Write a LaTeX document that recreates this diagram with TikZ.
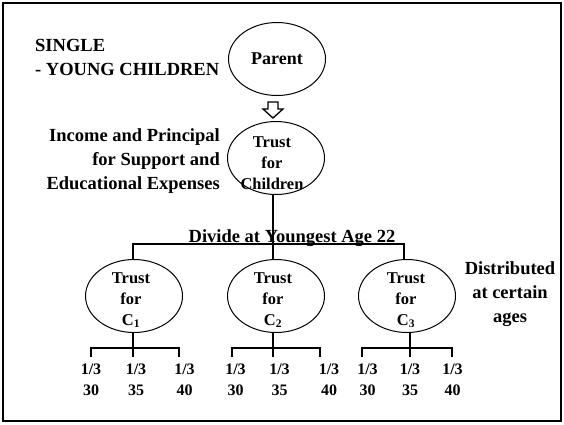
\documentclass[tikz,border=0pt]{standalone}
\usepackage{fontspec}
\setmainfont{Liberation Serif}
\usetikzlibrary{shapes.geometric}
\begin{document}
\begin{tikzpicture}[x=1pt,y=-1pt,
  bubble/.style={draw, ellipse, line width=1pt, inner sep=0pt, minimum width=97pt, minimum height=73pt},
  lbl/.style={font=\bfseries\fontsize{18.5}{24}\selectfont, inner sep=0pt},
  intext/.style={font=\bfseries\fontsize{16.5}{21}\selectfont, align=center, inner sep=0pt},
  frac/.style={font=\bfseries\fontsize{16}{21}\selectfont, align=center, inner sep=0pt},
  wire/.style={line width=2.4pt},
  hollow/.style={draw, line width=1.3pt, fill=white, line join=miter},
]
\useasboundingbox (0,0) rectangle (564,424);
% outer frame
\draw[line width=2.2pt] (3,3) rectangle (561,421);

% heading
\node[lbl, align=left, anchor=west] (title) at (35,57) {SINGLE\\- YOUNG CHILDREN};

% parent and its trust
\node[bubble] (parent) at (277,59) {};
\node[intext, font=\bfseries\fontsize{18}{21}\selectfont] (parentTxt) at (277,59) {Parent};

\draw[hollow] (268,102) -- (278,102) -- (278,109) -- (283,109) -- (273,118)
  -- (263,109) -- (268,109) -- cycle;

\node[bubble] (kids) at (276,158) {};
\node[intext] (kidsTxt) at (272,163) {Trust\\for\\Children};

\node[lbl, align=right, anchor=east] (purpose) at (220,161)
  {Income and Principal\\for Support and\\Educational Expenses};

% division into separate trusts
\node[lbl, anchor=base] (divide) at (292,242) {Divide at Youngest Age 22};
\coordinate (busL) at (133,244);
\coordinate (busM) at (273,244);
\coordinate (busR) at (404,244);
\draw[wire] (busM) -- (busM |- kids.south);
\draw[wire, line cap=rect] (busL) -- (busR);

\node[bubble] (c1) at (134,296) {};
\node[bubble] (c2) at (276,296) {};
\node[bubble] (c3) at (407,296) {};
\node[intext] (c1Txt) at (131,300) {Trust\\for\\C\textsubscript{1}};
\node[intext] (c2Txt) at (273,300) {Trust\\for\\C\textsubscript{2}};
\node[intext] (c3Txt) at (406,300) {Trust\\for\\C\textsubscript{3}};

\draw[wire] (busL) -- (busL |- c1.north);
\draw[wire] (busM) -- (busM |- c2.north);
\draw[wire] (busR) -- (busR |- c3.north);

\node[lbl, align=center] (dist) at (510,294) {Distributed\\at certain\\ages};

% staged distributions
\foreach \k/\m/\a/\b in {1/133/91/179, 2/273/232/320, 3/410/362/452} {
  \coordinate (s\k L) at (\a,348);
  \coordinate (s\k M) at (\m,348);
  \coordinate (s\k R) at (\b,348);
  \coordinate (e\k L) at (\a,357);
  \coordinate (e\k M) at (\m,357);
  \coordinate (e\k R) at (\b,357);
  \draw[wire] (e\k L) -- (s\k L) -- (s\k R) -- (e\k R);
  \draw[wire] (e\k M) -- (s\k M |- c\k.south);
}

\node[frac] (f1a) at (91,380) {1/3\\30};
\node[frac] (f1b) at (136,380) {1/3\\35};
\node[frac] (f1c) at (184.5,380) {1/3\\40};
\node[frac] (f2a) at (235.5,380) {1/3\\30};
\node[frac] (f2b) at (279.5,380) {1/3\\35};
\node[frac] (f2c) at (329,380) {1/3\\40};
\node[frac] (f3a) at (367.5,380) {1/3\\30};
\node[frac] (f3b) at (410,380) {1/3\\35};
\node[frac] (f3c) at (452.5,380) {1/3\\40};
\end{tikzpicture}
\end{document}
